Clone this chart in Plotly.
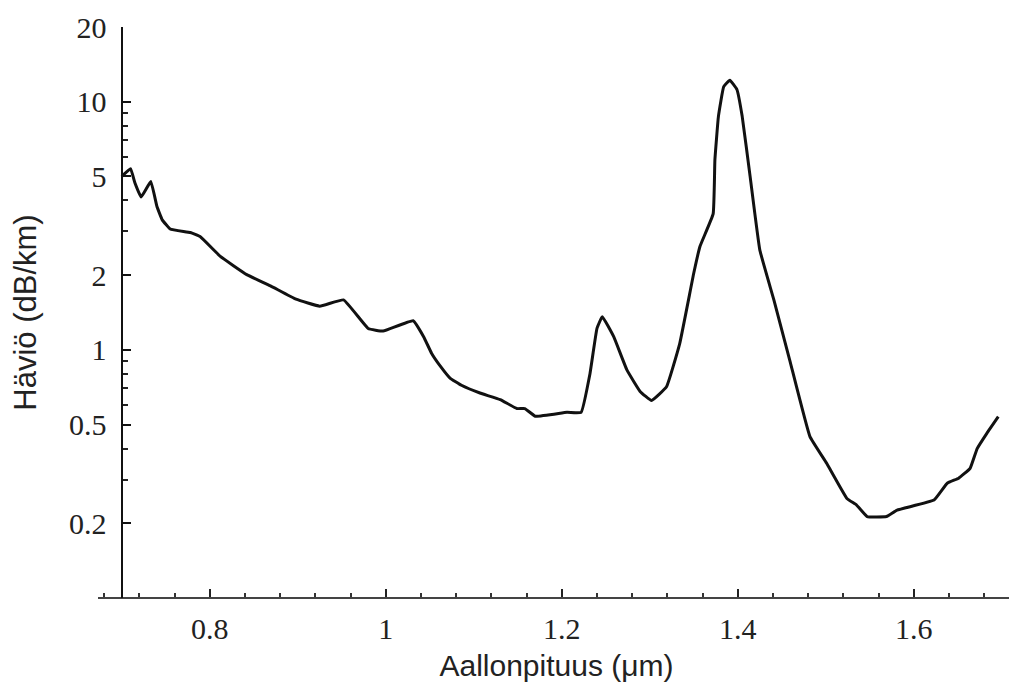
import plotly.graph_objects as go

wavelength = [0.700, 0.710, 0.715, 0.722, 0.733, 0.740, 0.746, 0.755, 0.778, 0.789,
              0.812, 0.842, 0.869, 0.898, 0.925, 0.952, 0.980, 0.997, 1.031, 1.043,
              1.052, 1.062, 1.073, 1.086, 1.107, 1.130, 1.149, 1.158, 1.170, 1.206,
              1.222, 1.232, 1.240, 1.246, 1.259, 1.274, 1.289, 1.302, 1.319, 1.334,
              1.350, 1.357, 1.372, 1.374, 1.378, 1.384, 1.391, 1.399, 1.405, 1.414,
              1.425, 1.441, 1.459, 1.482, 1.501, 1.524, 1.535, 1.547, 1.569, 1.581,
              1.623, 1.638, 1.651, 1.664, 1.672, 1.683, 1.696]
loss = [5.0, 5.37, 4.70, 4.13, 4.77, 3.78, 3.34, 3.07, 2.97, 2.86,
        2.38, 2.01, 1.81, 1.60, 1.50, 1.59, 1.22, 1.19, 1.31, 1.13,
        0.97, 0.86, 0.77, 0.72, 0.67, 0.63, 0.58, 0.58, 0.54, 0.56,
        0.56, 0.80, 1.22, 1.36, 1.13, 0.83, 0.68, 0.625, 0.71, 1.06,
        2.04, 2.61, 3.53, 5.84, 8.73, 11.5, 12.2, 11.2, 8.73, 5.0,
        2.53, 1.59, 0.91, 0.447, 0.349, 0.252, 0.237, 0.213, 0.213, 0.226,
        0.248, 0.29, 0.304, 0.333, 0.40, 0.461, 0.538]

y_tickvals = [0.2, 0.5, 1, 2, 5, 10, 20]
y_ticktext = ["0.2", "0.5", "1", "2", "5", "10", "20"]
y_minorvals = [0.3, 0.4, 0.6, 0.7, 0.8, 0.9, 3, 4, 6, 7, 8, 9]
x_tickvals = [0.8, 1.0, 1.2, 1.4, 1.6]
x_ticktext = ["0.8", "1", "1.2", "1.4", "1.6"]

fig = go.Figure()
fig.add_trace(go.Scatter(
    x=wavelength, y=loss, mode="lines",
    line=dict(color="#111111", width=3, shape="spline", smoothing=0.3),
    showlegend=False, hoverinfo="skip",
))

serif = "Liberation Serif, Times New Roman, serif"
sans = "Liberation Sans, Arial, sans-serif"

# page body has an 8px default margin; size the figure to fill the window
fig.update_layout(
    width=1009, height=674,
    margin=dict(l=90, r=2, t=19, b=84),
    paper_bgcolor="white", plot_bgcolor="white",
    xaxis=dict(
        range=[0.673, 1.715],
        anchor="free", position=0, automargin=False,
        showgrid=False, zeroline=False,
        showline=True, linecolor="#444444", linewidth=1.6,
        tickmode="array", tickvals=x_tickvals, ticktext=x_ticktext,
        ticks="inside", ticklen=8, tickwidth=1.6, tickcolor="#222222",
        minor=dict(ticks="inside", dtick=0.04, tick0=0, ticklen=4,
                   tickwidth=1.5, tickcolor="#333333", showgrid=False),
        tickfont=dict(family=serif, size=30, color="#222222"),
        ticklabelstandoff=4,
        title=dict(text="Aallonpituus (μm)",
                   font=dict(family=sans, size=30, color="#222222"),
                   standoff=10),
    ),
    yaxis=dict(
        type="log", range=[-1, 1.3011],
        anchor="free", position=0.0258, automargin=False,
        showgrid=False, zeroline=False,
        showline=True, linecolor="#111111", linewidth=2.2,
        tickmode="array", tickvals=y_tickvals, ticktext=y_ticktext,
        ticks="inside", ticklen=8, tickwidth=2, tickcolor="#111111",
        minor=dict(ticks="inside", tickmode="array", tickvals=y_minorvals,
                   ticklen=5, tickwidth=1.5, tickcolor="#222222", showgrid=False),
        tickfont=dict(family=serif, size=30, color="#222222"),
        ticklabelstandoff=8,
        title=dict(text="Häviö (dB/km)",
                   font=dict(family=sans, size=31, color="#222222"),
                   standoff=22),
    ),
)

fig.write_html("out.html")
